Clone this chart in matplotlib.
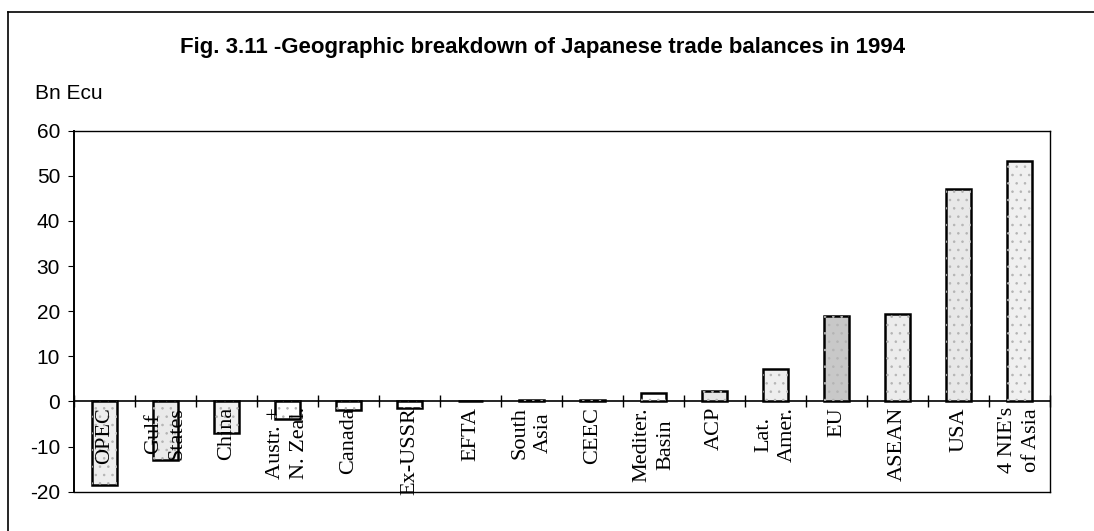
import matplotlib.pyplot as plt
import numpy as np
from matplotlib.lines import Line2D

# data (Bn Ecu, 1994)
regions = ["OPEC", "Gulf\nStates", "China", "Austr. +\nN. Zeal.", "Canada", "Ex-USSR",
           "EFTA", "South\nAsia", "CEEC", "Mediter.\nBasin", "ACP", "Lat.\nAmer.",
           "EU", "ASEAN", "USA", "4 NIE's\nof Asia"]
balance = [-18.5, -13.0, -7.0, -4.0, -2.0, -1.5, 0.0, 0.4, 0.4, 1.8, 2.3, 7.1,
           18.9, 19.4, 47.0, 53.3]
fills = ["#eeeeee", "#eaeaea", "#f0f0f0", "white", "white", "white", "white", "#333333",
         "#333333", "white", "#e6e6e6", "#eeeeee", "#c8c8c8", "#ececec", "#e8e8e8", "#f0f0f0"]
yticks = [-20, -10, 0, 10, 20, 30, 40, 50, 60]

plt.rcParams['font.family'] = ['Liberation Sans', 'DejaVu Sans']
plt.rcParams['axes.unicode_minus'] = False
plt.rcParams['hatch.linewidth'] = 0.6

fig = plt.figure(figsize=(10.94, 5.31), dpi=100)
ax = fig.add_axes((0.0676, 0.074, 0.8922, 0.68))

x = np.arange(len(regions))
ax.bar(x, balance, width=0.41, color=fills, edgecolor="black", linewidth=1.8, zorder=2)
# stipple texture
ax.bar(x, balance, width=0.41, fill=False, edgecolor="#b4b4b4", linewidth=0,
       hatch="..", zorder=2.5)

ax.set_xlim(-0.5, len(regions) - 0.5)
ax.set_ylim(-20, 60)
ax.set_yticks(yticks)
ax.set_xticks([])
ax.tick_params(axis="y", direction="out", length=4, width=0.8, pad=6, labelsize=15)
for s in ax.spines.values():
    s.set_linewidth(1.0)
ax.spines["left"].set_linewidth(1.4)

# category axis drawn at zero
sec = ax.secondary_xaxis(0.25)
sec.set_xticks(np.arange(len(regions) + 1) - 0.5)
sec.set_xticklabels([])
sec.tick_params(direction="inout", length=9, width=1.0)
sec.spines["bottom"].set_linewidth(1.2)

for i, lab in enumerate(regions):
    ax.annotate(lab, xy=(i, 0), xytext=(0, -4), textcoords="offset points",
                rotation=90, ha="center", va="top", multialignment="center",
                fontsize=16, family="Liberation Serif", linespacing=1.35, zorder=4)

fig.text(0.496, 0.91, "Fig. 3.11 -Geographic breakdown of Japanese trade balances in 1994",
         ha="center", va="center", fontsize=16, fontweight="bold")
fig.text(0.032, 0.823, "Bn Ecu", ha="left", va="center", fontsize=15)

# outer frame of the scanned box
fig.add_artist(Line2D([8 / 1094, 8 / 1094], [0, 1 - 12 / 531], color="black", lw=1.2))
fig.add_artist(Line2D([8 / 1094, 1], [1 - 12 / 531, 1 - 12 / 531], color="black", lw=1.2))

fig.savefig("out.png", dpi=100)
